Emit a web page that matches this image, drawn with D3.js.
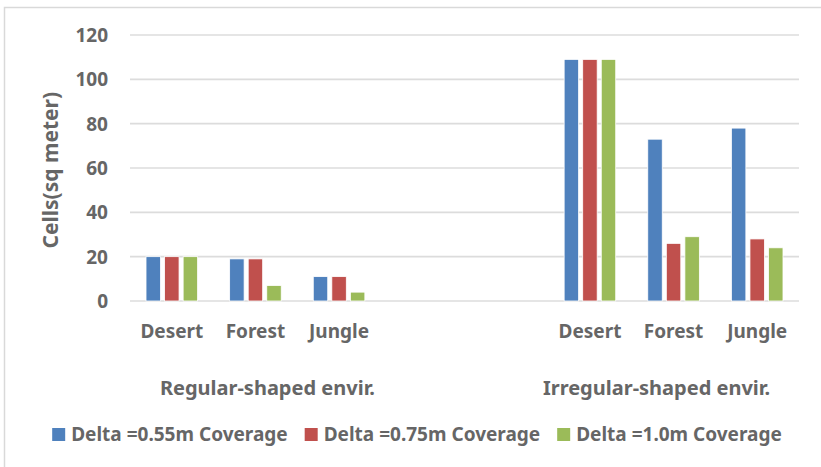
<!DOCTYPE html>
<html>
<head>
<meta charset="utf-8">
<script src="https://cdn.jsdelivr.net/npm/d3@7"></script>
<style>
  body { margin: 0; background: #fff; }
  text { font-family: "Noto Sans", sans-serif; font-weight: bold; fill: #666666; }
</style>
</head>
<body>
<div id="chart"></div>
<script>
// ---- data ----
const slots = ["R-Desert", "R-Forest", "R-Jungle", "gap1", "gap2", "I-Desert", "I-Forest", "I-Jungle"];
const slotLabels = ["Desert", "Forest", "Jungle", "", "", "Desert", "Forest", "Jungle"];
const groupNames = ["Regular-shaped envir.", "Irregular-shaped envir."];
const seriesNames = ["Delta =0.55m Coverage", "Delta =0.75m Coverage", "Delta =1.0m Coverage"];
const colors = ["#4F81BD", "#C0504D", "#9BBB59"];
const delta055 = [20, 19, 11, null, null, 109, 73, 78];
const delta075 = [20, 19, 11, null, null, 109, 26, 28];
const delta100 = [20, 7, 4, null, null, 109, 29, 24];
const yTicks = [0, 20, 40, 60, 80, 100, 120];

const seriesValues = [delta055, delta075, delta100];

const W = 821, H = 467;
const margin = {top: 35, left: 130, right: 22, bottom: 166};
const width = W - margin.left - margin.right;
const height = H - margin.top - margin.bottom;

const svg = d3.select("#chart").append("svg")
  .attr("width", W)
  .attr("height", H);

// outer frame
svg.append("rect")
  .attr("x", 4.5).attr("y", 7.5)
  .attr("width", W + 10).attr("height", H + 10)
  .attr("fill", "none")
  .attr("stroke", "#d9d9d9")
  .attr("stroke-width", 1.5);

const g = svg.append("g")
  .attr("transform", `translate(${margin.left},${margin.top})`);

const x0 = d3.scaleBand()
  .domain(slots)
  .range([0, width])
  .paddingInner(0.383)
  .paddingOuter(0.1915);

const x1 = d3.scaleBand()
  .domain(d3.range(seriesNames.length))
  .range([0, x0.bandwidth()])
  .paddingInner(0.22);

const y = d3.scaleLinear()
  .domain([0, 120])
  .range([height, 0]);

// gridlines
g.append("g")
  .selectAll("line")
  .data(yTicks)
  .join("line")
  .attr("x1", 0)
  .attr("x2", width)
  .attr("y1", d => y(d))
  .attr("y2", d => y(d))
  .attr("stroke", "#dcdcdc")
  .attr("stroke-width", 1.6);

// y tick labels
g.append("g")
  .selectAll("text")
  .data(yTicks)
  .join("text")
  .attr("x", -22)
  .attr("y", d => y(d))
  .attr("dy", "0.36em")
  .attr("text-anchor", "end")
  .style("font-size", "19px")
  .text(d => d);

// y title
svg.append("text")
  .attr("transform", `translate(58,${margin.top + y(59)}) rotate(-90)`)
  .attr("text-anchor", "middle")
  .style("font-size", "21px")
  .text("Cells(sq meter)");

// bars
const barData = [];
slots.forEach((s, i) => {
  seriesValues.forEach((vals, j) => {
    if (vals[i] != null) barData.push({slot: s, series: j, value: vals[i]});
  });
});

g.append("g")
  .selectAll("rect")
  .data(barData)
  .join("rect")
  .attr("x", d => x0(d.slot) + x1(d.series))
  .attr("y", d => y(d.value))
  .attr("width", x1.bandwidth())
  .attr("height", d => y(0) - y(d.value))
  .attr("fill", d => colors[d.series])
  .attr("stroke", "#fff")
  .attr("stroke-width", 0.8);

// category labels
g.append("g")
  .selectAll("text")
  .data(slots.filter((s, i) => slotLabels[i] !== ""))
  .join("text")
  .attr("x", d => x0(d) + x0.bandwidth() / 2)
  .attr("y", height + 37)
  .attr("text-anchor", "middle")
  .style("font-size", "19px")
  .text(d => slotLabels[slots.indexOf(d)]);

// group labels
const groupCenters = [
  x0("R-Forest") + x0.bandwidth() / 2 + 12,
  x0("I-Forest") + x0.bandwidth() / 2 - 17
];
g.append("g")
  .selectAll("text")
  .data(groupNames)
  .join("text")
  .attr("x", (d, i) => groupCenters[i])
  .attr("y", height + 94)
  .attr("text-anchor", "middle")
  .style("font-size", "20px")
  .text(d => d);

// legend
const legend = svg.append("g");
const items = legend.selectAll("g")
  .data(seriesNames)
  .join("g");

items.append("rect")
  .attr("width", 13)
  .attr("height", 13)
  .attr("y", -13)
  .attr("fill", (d, i) => colors[i]);

items.append("text")
  .attr("x", 19)
  .attr("y", 0)
  .style("font-size", "19px")
  .text(d => d);

let cursor = 0;
items.each(function() {
  const w = d3.select(this).select("text").node().getComputedTextLength();
  d3.select(this).attr("transform", `translate(${cursor},0)`);
  cursor += 19 + w + 17;
});
const legendWidth = cursor - 17;
legend.attr("transform", `translate(${417 - legendWidth / 2},441)`);
</script>
</body>
</html>
